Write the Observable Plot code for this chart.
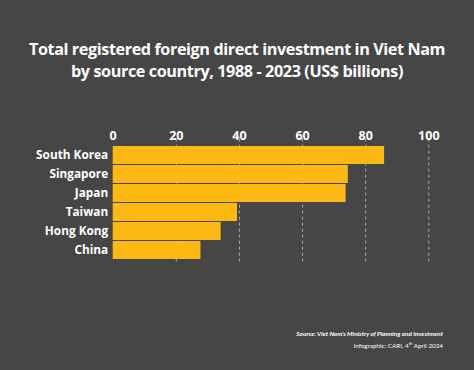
<!DOCTYPE html>
<html>
<head>
<meta charset="utf-8">
<script src="https://cdn.jsdelivr.net/npm/d3@7"></script>
<script src="https://cdn.jsdelivr.net/npm/@observablehq/plot@0.6"></script>
<style>
  html, body { margin: 0; padding: 0; background: #464646; }
  #wrap { position: relative; width: 474px; height: 370px; background: #464646; overflow: hidden; font-family: "Open Sans", Lato, sans-serif; color: #fff; }
  #title { position: absolute; left: 0; width: 474px; top: 38px; text-align: center; font-weight: 700; font-size: 16.2px; line-height: 22px; letter-spacing: -0.4px; }
  #chart { position: absolute; left: 0; top: 115px; }
  #src { position: absolute; right: 31px; top: 329px; text-align: right; font-family: Lato, sans-serif; font-size: 6.3px; line-height: 10px; }
  #src .s { font-weight: 700; font-style: italic; }
</style>
</head>
<body>
<div id="wrap">
  <div id="title">Total registered foreign direct investment in Viet Nam<br>by source country, 1988 - 2023 (US$ billions)</div>
  <div id="chart"></div>
  <div id="src"><div class="s">Source: Viet Nam's Ministry of Planning and Investment</div><div>Infographic: CARI, 4<sup style="font-size:4px">th</sup> April 2024</div></div>
</div>
<script>
const countries = ["South Korea", "Singapore", "Japan", "Taiwan", "Hong Kong", "China"];
const values = [86.0, 74.5, 73.8, 39.4, 34.2, 27.8];
const xTicks = [0, 20, 40, 60, 80, 100];

const data = countries.map((c, i) => ({country: c, value: values[i]}));

const chart = Plot.plot({
  width: 474,
  height: 155,
  marginTop: 27.7,
  marginBottom: 7.3,
  marginLeft: 112.7,
  marginRight: 45.7,
  style: {background: "transparent", color: "#fff", fontFamily: "'Open Sans', Lato, sans-serif"},
  x: {domain: [0, 100], axis: null},
  y: {domain: countries, paddingInner: 0.07, paddingOuter: 0.035, axis: null},
  marks: [
    Plot.ruleX(xTicks.slice(1), {stroke: "#ffffff", strokeOpacity: 0.55, strokeDasharray: "3,3", strokeWidth: 1, insetTop: -4}),
    Plot.barX(data, {y: "country", x: "value", fill: "#FDB913"}),
    Plot.axisX(xTicks, {anchor: "top", label: null, tickSize: 0, tickPadding: 3, fontSize: 12.5, fontWeight: 700, fill: "#fff", tickFormat: d => String(d)}),
    Plot.axisY(countries, {anchor: "left", label: null, tickSize: 0, tickPadding: 5, fontSize: 11.8, fontWeight: 700, fill: "#fff"})
  ]
});
document.getElementById("chart").appendChild(chart);
</script>
</body>
</html>
